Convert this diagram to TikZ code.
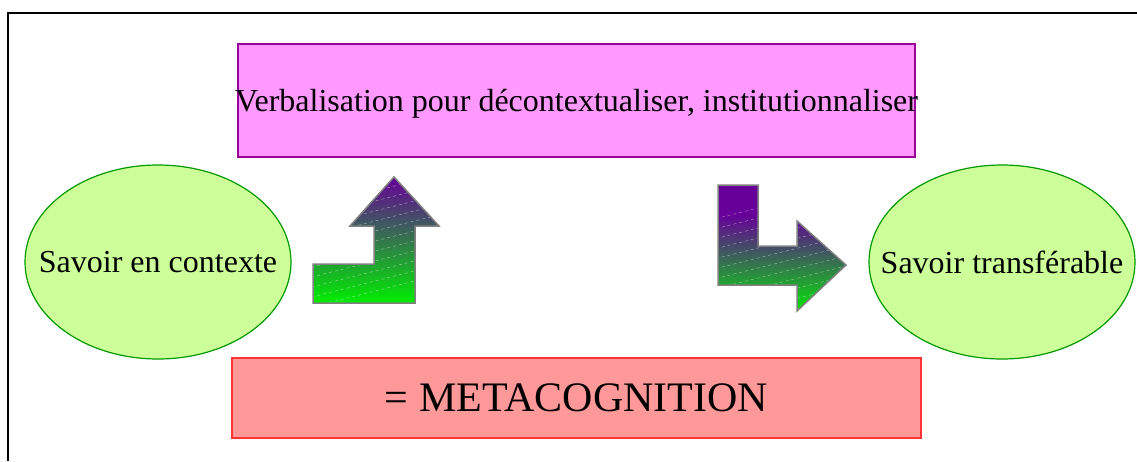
\documentclass[tikz,border=0pt]{standalone}
\usepackage{fontspec}
\setmainfont{Liberation Serif}
\usetikzlibrary{shapes.geometric}
\definecolor{pinkfill}{HTML}{FF99FF}
\definecolor{pinkline}{HTML}{990099}
\definecolor{ellfill}{HTML}{CCFF99}
\definecolor{ellline}{HTML}{009900}
\definecolor{redfill}{HTML}{FF9999}
\definecolor{redline}{HTML}{FF3333}
\definecolor{arrpurple}{HTML}{660099}
\definecolor{arrgreen}{HTML}{00EE00}
\definecolor{arrline}{HTML}{808080}
\tikzset{
  boxtop/.style={draw=pinkline, fill=pinkfill, line width=1.2pt, minimum width=677pt, minimum height=113pt, inner sep=0pt},
  ellbox/.style={ellipse, draw=ellline, fill=ellfill, line width=1.2pt, minimum width=266pt, minimum height=194pt, inner sep=0pt},
  bodytext/.style={font=\fontsize{32}{38}\selectfont, inner sep=0pt},
  metabox/.style={draw=redline, fill=redfill, line width=1.2pt, minimum width=689pt, minimum height=80pt, inner sep=0pt, font=\fontsize{42}{50}\selectfont},
  hatchline/.style={white, opacity=0.45, dashed, line width=0.5pt}
}
\begin{document}
\begin{tikzpicture}[x=1pt,y=-1pt]
\useasboundingbox (0,0) rectangle (1137,461);
\fill[white] (0,0) rectangle (1137,461);
% frame
\draw[line width=2pt] (8,461) -- (8,13) -- (1140,13);
% boxes
\node[boxtop] (verb) at (576.5,100.5) {};
\node[bodytext] (verbtext) at (576.5,104) {Verbalisation pour décontextualiser, institutionnaliser};
\node[ellbox] (left) at (158,262) {};
\node[bodytext] (lefttext) at (left.center) {Savoir en contexte};
\node[ellbox] (right) at (1002,262) {};
\node[bodytext] (righttext) at (right.center) {Savoir transférable};
\node[metabox] (meta) at (576.5,398) {= METACOGNITION};
% up arrow
\def\uparr{(313,303) -- (415,303) -- (415,226) -- (439,226) -- (394,177) -- (350,226) -- (374,226) -- (374,264) -- (313,264) -- cycle}
\shade[top color=arrpurple, bottom color=arrgreen] \uparr;
\begin{scope}
\clip \uparr;
\foreach \k in {0,...,16} {
  \draw[hatchline] (300,{310-\k*10}) -- (450,{272-\k*10});
}
\end{scope}
\draw[draw=arrline, line width=1.5pt, line join=miter] \uparr;
% right arrow
\def\rtarr{(718,185) -- (758,185) -- (758,246) -- (797,246) -- (797,221) -- (846,265) -- (797,311) -- (797,285) -- (718,285) -- cycle}
\begin{scope}
\clip \rtarr;
\fill[arrpurple] (710,180) rectangle (850,216);
\shade[top color=arrpurple, bottom color=arrgreen] (710,215) rectangle (850,315);
\foreach \k in {0,...,10} {
  \draw[hatchline] (710,{320-\k*10}) -- (850,{285-\k*10});
}
\end{scope}
\draw[draw=arrline, line width=1.5pt, line join=miter] \rtarr;
\end{tikzpicture}
\end{document}
